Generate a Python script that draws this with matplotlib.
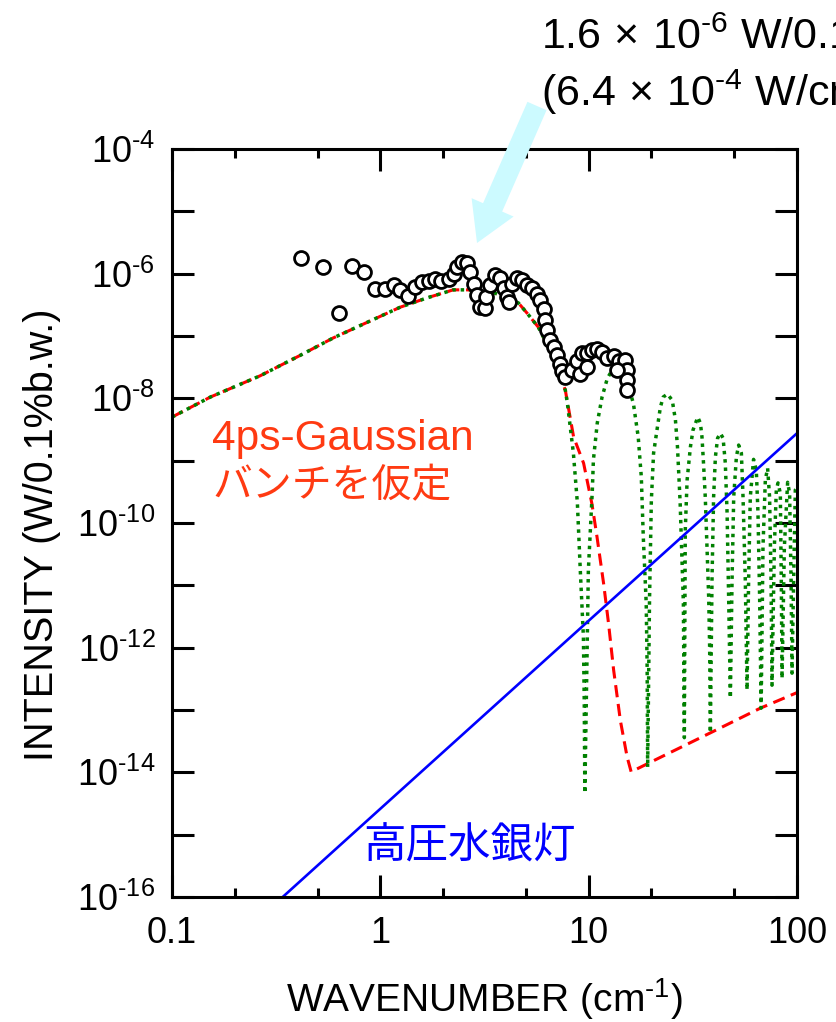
import numpy as np
import matplotlib
matplotlib.use("Agg")
import matplotlib.pyplot as plt
from matplotlib.ticker import FixedLocator, FixedFormatter, NullFormatter

# --- data ---
# measured points (open circles)
meas_k = [0.416, 0.528, 0.731, 0.838, 0.636, 0.946, 1.057, 1.158, 1.247, 1.359,
          1.461, 1.585, 1.706, 1.836, 1.963, 2.128, 2.248, 2.334, 2.466, 2.608,
          2.704, 2.806, 2.912, 3.02, 3.19, 3.22, 3.37, 3.57, 3.77, 3.91,
          4.06, 4.13, 4.29, 4.53, 4.79, 5.06, 5.35, 5.65, 5.86, 6.08,
          6.20, 6.31, 6.55, 6.79, 7.05, 7.31, 7.45, 7.73, 8.32, 8.80,
          9.30, 9.82, 10.38, 10.97, 11.59, 12.25, 13.18, 13.93, 15.0, 15.3,
          15.3, 15.3, 13.7, 9.12, 9.82]
meas_I = [1.77e-6, 1.28e-6, 1.34e-6, 1.07e-6, 2.36e-7, 5.6e-7, 5.6e-7, 6.6e-7, 5.4e-7, 4.4e-7,
          6.2e-7, 7.4e-7, 7.7e-7, 8.2e-7, 7.7e-7, 8.2e-7, 1.0e-6, 1.28e-6, 1.55e-6, 1.47e-6,
          1.07e-6, 6.9e-7, 4.6e-7, 2.96e-7, 2.77e-7, 4.3e-7, 6.6e-7, 9.6e-7, 8.4e-7, 5.8e-7,
          4.3e-7, 3.55e-7, 6.9e-7, 8.4e-7, 7.9e-7, 6.6e-7, 5.8e-7, 4.8e-7, 3.8e-7, 2.7e-7,
          1.8e-7, 1.24e-7, 8.6e-8, 6.7e-8, 4.9e-8, 3.6e-8, 2.7e-8, 2.2e-8, 2.8e-8, 3.9e-8,
          5.3e-8, 5.3e-8, 5.9e-8, 6.3e-8, 5.6e-8, 4.4e-8, 4.7e-8, 3.9e-8, 4.1e-8, 2.8e-8,
          1.95e-8, 1.35e-8, 2.8e-8, 2.5e-8, 3.2e-8]

# common low-frequency part of both calculations
low_k = [0.1, 0.153, 0.265, 0.413, 0.594, 0.866, 1.247, 1.68, 2.24, 2.62,
         3.44, 4.60, 5.08, 5.74, 6.70, 7.73]
low_I = [5.0e-9, 1.05e-8, 2.3e-8, 4.9e-8, 9.3e-8, 1.66e-7, 2.9e-7, 4.1e-7, 5.5e-7, 5.5e-7,
         5.1e-7, 3.4e-7, 2.3e-7, 1.38e-7, 5.0e-8, 1.35e-8]

# 4ps Gaussian bunch (red dashed), high-frequency part
gauss_k = [8.47, 9.46, 10.38, 10.97, 11.8, 12.47, 13.18, 14.2, 15.3, 16.0,
           22.1, 38.4, 66.7, 100]
gauss_I = [2.4e-9, 9.1e-10, 2.0e-10, 6.0e-11, 1.07e-11, 2.4e-12, 4.4e-13, 6.8e-14, 1.77e-14, 1.02e-14,
           1.74e-14, 4.3e-14, 1.07e-13, 1.9e-13]

# green dotted curve, high-frequency part
osc_k = [7.91, 8.45, 8.83, 9.12, 9.44, 9.53, 9.59, 9.75, 9.97, 10.42,
         10.54, 11.0, 11.6, 12.3, 13.4, 15.0, 16.4, 17.3, 17.9, 18.3,
         18.9, 19.1, 19.2, 19.6, 20.0, 20.5, 21.4, 22.1, 22.8, 23.9,
         25.2, 26.1, 26.7, 27.5, 28.5, 28.8, 29.1, 29.7, 30.8, 31.7,
         33.4, 34.4, 35.0, 35.6, 36.3, 37.0, 37.7, 38.1, 38.4, 39.1,
         39.8, 40.6, 41.6, 42.9, 44.2, 45.3, 46.2, 47.0, 47.9, 48.8,
         49.7, 51.2, 52.5, 54.1, 55.1, 56.5, 57.6, 58.6, 59.7, 61.9,
         63.8, 65.0, 66.2, 67.3, 68.7, 70.5, 72.3, 73.9, 75.1, 75.9,
         77.9, 79.6, 81.1, 83.2, 84.1, 84.8, 87.0, 90.2, 92.2, 93.7,
         94.7, 96.4, 98.2, 100]
osc_I = [8.3e-9, 1.32e-9, 2.1e-10, 1.74e-11, 1.48e-12, 1.29e-13, 4.6e-15, 1.45e-13, 1.74e-11, 3.4e-10,
         1.02e-9, 4.0e-9, 1.05e-8, 2.1e-8, 3.4e-8, 2.3e-8, 8.3e-9, 2.4e-9, 5.5e-10, 5.9e-11,
         5.1e-12, 4.4e-13, 1.2e-14, 5.8e-12, 2.3e-10, 1.32e-9, 3.5e-9, 7.2e-9, 1.05e-8, 1.17e-8,
         9.3e-9, 4.5e-9, 1.66e-9, 2.1e-10, 5.1e-12, 3.6e-14, 7.6e-11, 4.9e-10, 1.66e-9, 3.1e-9,
         5.0e-9, 4.0e-9, 2.4e-9, 9.1e-10, 2.6e-10, 4.1e-11, 6.4e-12, 1.02e-12, 4.3e-14, 1.2e-11,
         2.6e-10, 1.15e-9, 2.3e-9, 2.75e-9, 2.3e-9, 9.1e-10, 1.45e-10, 6.4e-12, 1.55e-13, 1.2e-11,
         2.6e-10, 1.15e-9, 1.78e-9, 1.32e-9, 2.6e-10, 1.2e-11, 2.1e-13, 1.2e-11, 2.6e-10, 1.05e-9,
         7.1e-10, 1.45e-10, 6.4e-12, 1.07e-13, 4.1e-11, 4.9e-10, 7.6e-10, 2.6e-10, 1.2e-11, 2.5e-13,
         4.1e-11, 3.4e-10, 4.4e-10, 3.0e-10, 1.2e-11, 3.2e-13, 4.1e-11, 4.5e-10, 3.0e-10, 1.2e-11,
         3.9e-13, 1.2e-11, 3.4e-10, 3.7e-10]

# high pressure mercury lamp (blue)
hg_k = [0.34, 1.0, 10.0, 100.0]
hg_I = [1.0e-16, 2.6e-15, 2.7e-12, 2.75e-9]

x_ticks = [0.1, 1, 10, 100]
x_tick_labels = ["0.1", "1", "10", "100"]
x_minor = [0.2, 0.5, 2, 5, 20, 50]
y_exps = list(range(-16, -3))

# --- style ---
plt.rcParams['font.family'] = ['Liberation Sans', 'Noto Sans CJK JP']
plt.rcParams['mathtext.fontset'] = 'custom'
plt.rcParams['mathtext.rm'] = 'Liberation Sans'
plt.rcParams['mathtext.it'] = 'Liberation Sans:italic'
plt.rcParams['mathtext.bf'] = 'Liberation Sans:bold'
plt.rcParams['mathtext.default'] = 'regular'

fig = plt.figure(figsize=(8.36, 10.22), dpi=100)
ax = fig.add_axes([0.2057, 0.1223, 0.7476, 0.7319])

red_k = low_k + gauss_k
red_I = low_I + gauss_I
green_k = low_k + osc_k
green_I = low_I + osc_I

ax.plot(red_k, red_I, color='#ff0000', lw=2.2, dashes=(4, 2.2))
ax.plot(green_k, green_I, color='#008000', lw=2.5, linestyle=(0, (1, 1.4)))
ax.plot(hg_k, hg_I, color='#0000ff', lw=1.9)
ax.plot(meas_k, meas_I, 'o', mfc='white', mec='black', ms=10, mew=2.0)

ax.set_xscale('log')
ax.set_yscale('log')
ax.set_xlim(0.1, 100)
ax.set_ylim(1e-16, 1e-4)

ax.xaxis.set_major_locator(FixedLocator(x_ticks))
ax.xaxis.set_major_formatter(FixedFormatter(x_tick_labels))
ax.xaxis.set_minor_locator(FixedLocator(x_minor))
ax.xaxis.set_minor_formatter(NullFormatter())
ax.yaxis.set_major_locator(FixedLocator([10.0 ** e for e in y_exps]))
ax.yaxis.set_major_formatter(FixedFormatter(
    [r'$10^{\text{-%d}}$' % -e if e % 2 == 0 else '' for e in y_exps]))
ax.yaxis.set_minor_locator(FixedLocator([]))

for s in ax.spines.values():
    s.set_linewidth(2.2)
ax.tick_params(which='both', direction='in', top=True, right=True, width=2.2)
ax.tick_params(which='major', length=16, labelsize=26)
ax.tick_params(which='minor', length=6.5)
ax.tick_params(axis='x', pad=14)
ax.tick_params(axis='y', pad=12)

W, H = 836.0, 1022.0
fig.text(484 / W, 1 - 999 / H, r'WAVENUMBER (cm$^{\text{-1}}$)', fontsize=28,
         ha='center', va='center')
fig.text(42 / W, 1 - 535 / H, 'INTENSITY (W/0.1%b.w.)', fontsize=28.5,
         rotation=90, ha='center', va='center')

fig.text(212 / W, 1 - 439 / H, '4ps-Gaussian', fontsize=30.5, color='#ff3a12',
         ha='left', va='center')
fig.text(212 / W, 1 - 486 / H, 'バンチを仮定', fontsize=28.7, color='#ff3a12',
         ha='left', va='center')
fig.text(470 / W, 1 - 848 / H, '高圧水銀灯', fontsize=30.6, color='#0000ff',
         ha='center', va='center')

fig.text(541 / W, 1 - 49 / H, r'$1.6\,\times\,10^{\text{-6}}$ W/0.1%b.w.', fontsize=31,
         ha='left', va='baseline')
fig.text(541 / W, 1 - 106 / H, r'($6.4\,\times\,10^{\text{-4}}$ W/cm$^{\text{-1}}$)', fontsize=31,
         ha='left', va='baseline')

ax.annotate('', xy=(477 / W, 1 - 243 / H), xytext=(537 / W, 1 - 106 / H),
            xycoords='figure fraction', textcoords='figure fraction',
            arrowprops=dict(arrowstyle='simple,head_length=2.8,head_width=3.3,tail_width=1.5',
                            mutation_scale=10, color='#ccfaff', lw=0,
                            shrinkA=0, shrinkB=0),
            annotation_clip=False)

fig.savefig('out.png', dpi=100)
